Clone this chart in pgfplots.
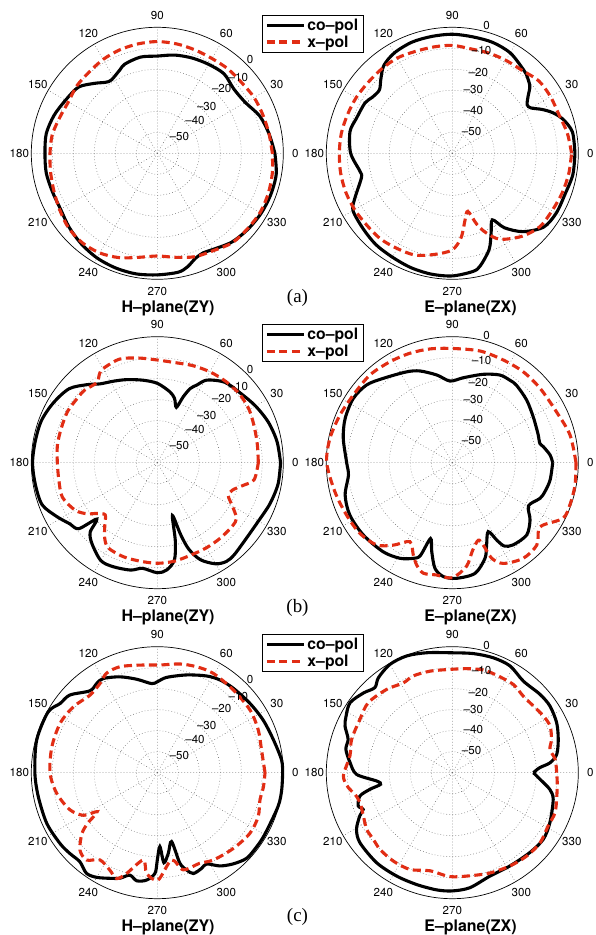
\documentclass[border=0pt]{standalone}
\usepackage{pgfplots}
\pgfplotsset{compat=1.18}
\usepackage{pgfplotstable}
\usepgfplotslibrary{polar}
\usepackage{fontspec}
\setmainfont{TeX Gyre Heros}
\newfontfamily\timesfont{Liberation Serif}
\definecolor{xred}{RGB}{225,45,20}

% ---------------- data: angle (deg), level (dB) ----------------
\pgfplotstableread{
a d
0 -4.0
10 -6.0
20 -8.1
30 -11.6
40 -12.4
50 -10.6
60 -11.1
70 -11.7
80 -12.5
90 -13.7
100 -13.5
110 -14.8
114 -16.4
122 -18.8
126 -18.2
132 -15.2
140 -11.0
150 -9.5
160 -7.6
170 -6.3
180 -6.5
190 -6.3
200 -6.8
210 -6.8
220 -5.2
230 -3.7
240 -2.5
250 -1.9
260 -1.7
270 -2.1
280 -2.5
285 -4.1
290 -6.8
295 -7.8
300 -7.1
310 -4.8
320 -3.7
330 -2.9
340 -2.5
350 -2.5
360 -4.0
}\AHco
\pgfplotstableread{
a d
0 -5.2
10 -6.0
20 -6.5
30 -6.8
40 -7.6
50 -7.6
60 -7.9
70 -7.6
80 -7.1
90 -6.8
100 -7.1
110 -7.6
120 -8.4
130 -9.5
140 -10.0
150 -11.1
160 -10.5
170 -9.2
180 -8.9
190 -8.4
200 -7.6
210 -6.3
220 -4.8
230 -4.4
240 -5.2
250 -7.1
260 -9.7
270 -11.1
280 -9.7
290 -7.6
300 -6.5
310 -4.4
320 -4.0
330 -3.5
340 -3.8
350 -4.4
360 -5.2
}\AHx
\pgfplotstableread{
a d
0 -1.6
10 -1.9
17 -4.8
22 -8.4
26 -12.4
30 -16.8
33 -17.5
37 -14.8
41 -11.1
47 -8.4
50 -7.6
60 -4.8
70 -3.8
80 -3.7
90 -3.3
100 -3.5
110 -3.7
120 -4.8
128 -7.0
134 -11.0
139 -14.0
145 -13.5
150 -12.0
160 -11.4
168 -10.2
180 -11.6
191 -15.2
195 -15.2
205 -8.7
210 -5.4
220 -4.4
230 -3.3
240 -2.9
250 -2.1
260 -1.6
270 -1.6
280 -2.9
284 -4.8
291 -11.0
296 -17.8
301 -23.0
305 -16.7
312 -9.8
321 -4.1
330 -2.9
340 -2.9
350 -1.7
360 -1.6
}\AEco
\pgfplotstableread{
a d
0 -3.2
10 -4.4
20 -6.0
30 -6.0
40 -6.3
50 -8.4
60 -8.9
70 -9.2
80 -9.5
90 -8.6
100 -8.6
110 -8.4
120 -7.6
130 -7.6
140 -7.6
150 -7.1
160 -6.8
170 -6.3
180 -6.2
190 -6.0
200 -6.0
210 -6.3
220 -6.8
230 -6.8
240 -7.6
250 -8.4
260 -11.1
270 -14.0
276 -19.7
281 -27.9
285 -31.4
289 -24.3
293 -18.9
299 -13.2
310 -8.4
320 -5.6
330 -5.2
340 -4.4
350 -3.7
360 -3.2
}\AEx
\pgfplotstableread{
a d
0 -1.3
10 -2.1
20 -3.7
30 -6.0
40 -8.4
50 -10.0
59 -14.1
63 -18.5
66 -21.3
68.5 -26.2
71 -32.1
75 -28.3
80 -25.7
90 -22.2
100 -20.1
110 -17.9
118 -16.0
126 -13.6
132 -10.0
140 -5.2
150 -2.9
160 -1.3
170 -1.0
180 -0.6
190 -1.0
200 -1.6
208 -5.6
215 -9.2
220 -11.1
223 -20.6
226 -14.0
231 -10.5
240 -6.2
247 -6.2
256 -7.3
262 -9.2
270 -7.6
275 -8.7
280 -13.0
283 -21.9
286 -33.8
288 -24.0
290 -16.2
294 -9.4
300 -4.4
305 -2.6
310 -2.9
320 -4.4
330 -4.4
340 -2.9
350 -1.6
360 -1.3
}\BHco
\pgfplotstableread{
a d
0 -11.9
10 -11.6
20 -10.8
30 -9.5
40 -9.0
50 -9.4
60 -10.0
70 -10.8
80 -11.6
90 -11.1
100 -9.4
110 -7.5
120 -8.3
123 -9.5
127 -12.2
135 -11.1
140 -11.1
150 -10.8
160 -11.4
170 -11.7
180 -12.4
190 -12.4
200 -11.9
210 -14.8
216 -18.6
220 -22.4
225 -24.9
230 -21.1
235 -16.3
240 -13.2
250 -12.4
260 -12.4
270 -12.1
280 -12.4
290 -13.2
300 -13.2
310 -13.2
320 -13.2
325 -14.0
330 -18.7
335 -22.7
340 -21.9
345 -17.9
350 -13.2
360 -11.9
}\BHx
\pgfplotstableread{
a d
0 -12.2
4.5 -13.3
10 -16.0
12.4 -17.3
17.8 -17.0
22 -16.7
29.6 -15.7
40.1 -13.7
50.4 -12.1
55 -12.1
61.5 -12.5
70.7 -15.4
82.6 -19.2
91.6 -21.1
100 -17.6
109.4 -13.7
116.6 -11.6
129.3 -8.1
137.8 -4.9
147 -3.8
157.6 -4.8
167.4 -6.8
180 -9.7
186.8 -10.2
196.8 -6.7
207 -5.2
219 -5.4
232.2 -6.3
241.3 -8.1
247.8 -10.8
251 -13.2
254 -22.4
257 -16.5
260.7 -9.0
265.5 -5.6
272 -4.9
281.6 -6.2
288.9 -11.9
292.6 -17.5
297.5 -23.0
300 -17.1
302 -13.2
306.5 -11.3
315.8 -10.6
323.6 -14.0
330.5 -18.3
337.9 -14.9
342.6 -13.8
350 -12.7
360 -12.2
}\BEco
\pgfplotstableread{
a d
0 -1.1
13.2 -2.4
26 -4.8
40.3 -5.2
52 -5.1
63.6 -5.4
76 -5.2
90 -5.6
101 -4.8
111.2 -4.1
121.7 -3.5
133.2 -2.7
145.6 -2.9
157 -1.9
168.7 -0.6
180 -0.2
193.9 -2.4
206.3 -3.8
217.4 -4.6
227.4 -6.8
234.4 -11.7
241.8 -17.3
247 -12.4
250.8 -8.4
255.3 -5.6
262 -6.0
270 -5.2
277.8 -10.2
283 -17.1
288.6 -21.1
290.6 -18.1
292.4 -10.8
296.9 -6.2
306.6 -3.3
315.7 -3.8
322 -7.9
325.6 -7.5
333.4 -1.0
340.2 -0.5
349.7 -0.6
360 -1.1
}\BEx
\pgfplotstableread{
a d
0 -0.3
5.8 -0.5
15.7 -2.5
26.4 -3.7
36.8 -4.9
48 -5.9
55.9 -6.7
63 -8.3
73.3 -11.4
84.4 -14.4
90 -16.7
93.6 -17.5
102.5 -14.4
111.3 -11.0
119.8 -8.3
124 -8.6
129.4 -9.5
138.4 -4.3
144.5 -3.2
151 -0.5
164.9 -0.5
180 -1.7
191.4 -2.2
204.6 -2.1
216 -2.7
222.7 -3.3
229 -3.8
234.9 -1.4
239.9 -2.4
245.9 -4.9
250.5 -6.7
255 -9.5
259.2 -7.6
264.3 -8.6
268.7 -12.1
270 -18.4
272 -24.8
274.2 -17.0
277.8 -21.3
281.7 -26.5
284 -15.6
286.8 -11.6
289.7 -9.0
294.9 -9.8
298.4 -10.6
303.9 -6.5
309.8 -3.5
316.2 -1.1
323 -1.0
330 -1.0
344.3 -0.3
352 -0.2
360 -0.3
}\CHco
\pgfplotstableread{
a d
0 -8.7
12.3 -9.2
22.9 -7.8
34 -6.7
47.4 -6.5
60.6 -5.7
69.6 -6.2
78.2 -7.1
88.6 -8.7
99.1 -8.1
109.4 -6.5
117 -6.8
122.7 -9.5
130.9 -11.1
141.8 -9.2
153 -8.1
166.2 -8.3
180 -8.9
191.6 -11.1
203 -14.8
210 -19.4
213 -25.9
216 -19.0
219 -13.8
225 -7.9
231 -6.5
236.7 -10.3
244 -8.4
249 -6.0
253 -9.8
260.9 -17.9
264 -11.7
270.4 -8.9
279.3 -17.9
285 -12.1
295 -12.4
302.7 -10.6
315.1 -8.9
326.8 -7.3
336.5 -7.6
345 -9.4
352.5 -9.0
360 -8.7
}\CHx
\pgfplotstableread{
a d
0 -21.4
3.3 -18.3
5.8 -13.2
10 -9.5
17.5 -7.1
25.6 -4.9
34.3 -3.7
41.8 -4.0
52.2 -4.8
61.6 -2.2
70.4 -1.9
80 -2.4
90 -2.9
102 -1.6
111.4 -0.3
120 -0.5
127.9 -2.7
132.3 -5.2
138 -3.2
145.6 -1.0
152 -2.7
156.5 -4.3
162.2 -7.9
167.6 -8.1
174.4 -11.1
181 -14.4
186.3 -23.8
189.2 -25.4
191.4 -20.0
194.2 -14.6
199.5 -12.5
202.4 -14.1
205 -11.4
210.6 -7.0
217.2 -4.8
230 -4.0
241.7 -4.1
252.3 -4.1
262.4 -3.7
270 -3.7
278.7 -4.6
290 -7.6
301.7 -7.8
314.2 -7.0
323.8 -6.3
332.9 -7.8
345.2 -10.3
350.3 -12.9
355.7 -18.1
360 -21.4
}\CEco
\pgfplotstableread{
a d
0 -10.3
7.4 -10.6
13.4 -12.2
18.5 -10.2
25.5 -8.4
31.9 -8.9
39.5 -10.0
47.2 -10.3
55.4 -8.9
65.5 -9.0
73.2 -8.9
82.2 -10.0
91.3 -10.8
102.4 -10.5
112 -10.3
118.6 -11.3
128.2 -9.5
140.2 -7.9
150 -9.2
161.7 -9.5
170.7 -10.6
181.7 -8.1
188.2 -10.0
192.5 -12.5
198 -13.8
206 -12.9
213.5 -11.1
220.2 -10.8
226.7 -9.8
236.3 -9.4
246.4 -9.7
257.2 -12.1
268.7 -10.5
279.7 -10.2
290.6 -9.0
301.7 -7.8
311.7 -6.8
321.4 -6.5
330.9 -7.8
338.7 -7.5
347.4 -9.0
354.6 -9.8
360 -10.3
}\CEx

\pgfplotsset{
  mypolar/.style={
    scale only axis, width=252bp, height=252bp,
    anchor=center,
    ymin=0, ymax=60,
    xtick={0,30,...,330}, ytick={10,20,30,40,50},
    xticklabels={}, yticklabels={},
    major tick length=0pt,
    grid=major,
    major grid style={black!60, line width=0.5pt, dash pattern=on 0.7bp off 2.3bp},
    axis line style={black, line width=0.7pt},
    y axis line style={draw=none},
    clip=false,
  },
  myleg/.style={
    legend style={at={(0.9155,1.05)}, anchor=north west, draw=black,
      line width=0.8pt, fill=white,
      font=\fontsize{15.8}{18.5}\selectfont\bfseries,
      inner xsep=3bp, inner ysep=1.5bp, cells={anchor=west}},
    legend image code/.code={\draw[##1] (0bp,0bp) -- (37bp,0bp);},
  },
  copol/.style={black, line width=3.1bp, smooth, tension=0.5},
  xpol/.style={xred, line width=3.1bp, smooth, tension=0.5, dash pattern=on 8bp off 4.5bp},
}
\tikzset{lab/.style={font=\fontsize{11.6}{13.5}\selectfont, inner sep=0pt}}

\newcommand\anglabels[2]{%
  \foreach \t in {0,30,...,330}{\node[lab] at ([shift={(\t:138bp)}]#1bp,#2bp) {\t};}}
\newcommand\radL[2]{%
  \foreach \dx/\dy/\l in {92.7/93.3/0,81/76/{–10},64.4/64.3/{–20},49.4/47.3/{–30},37.7/33.3/{–40},22/17.3/{–50}}
    {\node[lab] at ([shift={(\dx bp,\dy bp)}]#1bp,#2bp) {\l};}}
\newcommand\radR[2]{%
  \foreach \dx/\dy/\l in {34.3/127.3/0,29.3/102.3/{–10},26/80.7/{–20},21/63.3/{–30},21/43.3/{–40},19.3/22.3/{–50}}
    {\node[lab] at ([shift={(\dx bp,\dy bp)}]#1bp,#2bp) {\l};}}
\newcommand\ttl[3]{\node[font=\fontsize{16}{19}\selectfont\bfseries, inner sep=0pt] at (#1bp,#2bp) {#3};}

\begin{document}
\begin{tikzpicture}
\useasboundingbox (0bp,0bp) rectangle (596bp,935bp);

% ---------- row (a) ----------
\begin{polaraxis}[mypolar, myleg, at={(157.3bp,781.7bp)}]
\addplot[copol] table[x=a, y expr=\thisrow{d}+60] {\AHco};
\addplot[xpol] table[x=a, y expr=\thisrow{d}+60] {\AHx};
\legend{co–pol, x–pol}
\end{polaraxis}
\begin{polaraxis}[mypolar, at={(452.3bp,781.7bp)}]
\addplot[copol] table[x=a, y expr=\thisrow{d}+60] {\AEco};
\addplot[xpol] table[x=a, y expr=\thisrow{d}+60] {\AEx};
\end{polaraxis}
\anglabels{157.3}{781.7}\anglabels{452.3}{781.7}
\radL{157.3}{781.7}\radR{452.3}{781.7}
\ttl{168}{627}{H–plane(ZY)}
\ttl{470.5}{627}{E–plane(ZX)}
\node[font=\timesfont\fontsize{19}{22}\selectfont, inner sep=0pt] at (297.5bp,637bp) {(a)};

% ---------- row (b) ----------
\begin{polaraxis}[mypolar, myleg, at={(157.3bp,472.3bp)}]
\addplot[copol] table[x=a, y expr=\thisrow{d}+60] {\BHco};
\addplot[xpol] table[x=a, y expr=\thisrow{d}+60] {\BHx};
\legend{co–pol, x–pol}
\end{polaraxis}
\begin{polaraxis}[mypolar, at={(452.3bp,472.3bp)}]
\addplot[copol] table[x=a, y expr=\thisrow{d}+60] {\BEco};
\addplot[xpol] table[x=a, y expr=\thisrow{d}+60] {\BEx};
\end{polaraxis}
\anglabels{157.3}{472.3}\anglabels{452.3}{472.3}
\radL{157.3}{472.3}\radR{452.3}{472.3}
\ttl{168}{317.5}{H–plane(ZY)}
\ttl{470.5}{317.5}{E–plane(ZX)}
\node[font=\timesfont\fontsize{19}{22}\selectfont, inner sep=0pt] at (297.5bp,327.5bp) {(b)};

% ---------- row (c) ----------
\begin{polaraxis}[mypolar, myleg, at={(157.3bp,162.3bp)}]
\addplot[copol] table[x=a, y expr=\thisrow{d}+60] {\CHco};
\addplot[xpol] table[x=a, y expr=\thisrow{d}+60] {\CHx};
\legend{co–pol, x–pol}
\end{polaraxis}
\begin{polaraxis}[mypolar, at={(452.3bp,162.3bp)}]
\addplot[copol] table[x=a, y expr=\thisrow{d}+60] {\CEco};
\addplot[xpol] table[x=a, y expr=\thisrow{d}+60] {\CEx};
\end{polaraxis}
\anglabels{157.3}{162.3}\anglabels{452.3}{162.3}
\radL{157.3}{162.3}\radR{452.3}{162.3}
\ttl{168}{7.5}{H–plane(ZY)}
\ttl{470.5}{7.5}{E–plane(ZX)}
\node[font=\timesfont\fontsize{19}{22}\selectfont, inner sep=0pt] at (297.5bp,18bp) {(c)};
\end{tikzpicture}
\end{document}
